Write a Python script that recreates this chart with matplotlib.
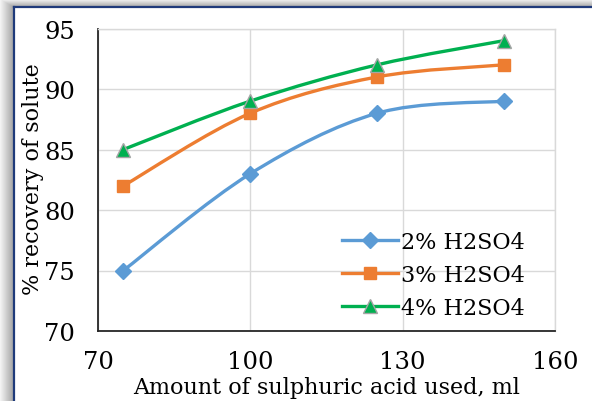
import numpy as np
import matplotlib
matplotlib.use("Agg")
import matplotlib.pyplot as plt
from matplotlib.path import Path
from matplotlib.patches import PathPatch
from matplotlib.lines import Line2D

# ---- data ----
acid_ml = [75, 100, 125, 150]
rec_2pct = [75, 83, 88, 89]
rec_3pct = [82, 88, 91, 92]
rec_4pct = [85, 89, 92, 94]
series_labels = ["2% H2SO4", "3% H2SO4", "4% H2SO4"]
x_ticks = [70, 100, 130, 160]
y_ticks = [70, 75, 80, 85, 90, 95]

colors = ["#5B9BD5", "#ED7D31", "#00B050"]
markers = ["D", "s", "^"]
msizes = [8, 9, 10]
medges = ["#5B9BD5", "#ED7D31", "#A5A5A5"]

FONT = "DejaVu Serif"
FS = 16
FS_TICK = 17.5

W, H = 592, 402
fig = plt.figure(figsize=(W / 100, H / 100), dpi=100)

# ---- background frame with shadow ----
bg = fig.add_axes([0, 0, 1, 1], zorder=-10)
bx, by = 14, 8
yy, xx = np.mgrid[0:H, 0:W]
dx = np.clip(bx - xx, 0, None)
dy = np.clip(by - yy, 0, None)
d = np.maximum(dx / bx, dy / by)
outside = (xx < bx) | (yy < by)
img = np.ones((H, W))
shade = 0.62 + 0.33 * d
img[outside] = shade[outside]
bg.imshow(img, cmap="gray", vmin=0, vmax=1, extent=(0, W, H, 0), aspect="auto",
          interpolation="bilinear")
bg.plot([bx, bx], [by, H], color="#1F3A7A", lw=1.6)
bg.plot([bx, W], [by, by], color="#1F3A7A", lw=1.6)
bg.set_xlim(0, W)
bg.set_ylim(H, 0)
bg.axis("off")

# ---- main axes ----
L, R, T, B = 98, 555, 29.5, 332
ax = fig.add_axes([L / W, (H - B) / H, (R - L) / W, (B - T) / H])
ax.set_facecolor("none")
ax.set_xlim(70, 160)
ax.set_ylim(70, 95)
ax.set_xticks(x_ticks)
ax.set_yticks(y_ticks)
ax.grid(True, color="#D9D9D9", lw=1.0, zorder=0)
ax.set_axisbelow(True)
for s in ["top", "right"]:
    ax.spines[s].set_color("#D9D9D9")
    ax.spines[s].set_linewidth(1.0)
for s in ["left", "bottom"]:
    ax.spines[s].set_color("#262626")
    ax.spines[s].set_linewidth(1.3)
ax.tick_params(length=0, labelsize=FS_TICK)
ax.tick_params(axis="x", pad=14)
ax.tick_params(axis="y", pad=16.5)
for lab in ax.get_xticklabels() + ax.get_yticklabels():
    lab.set_fontfamily(FONT)


def smooth_path(x, y):
    pts = np.column_stack([x, y]).astype(float)
    n = len(pts)
    verts = [pts[0]]
    codes = [Path.MOVETO]
    for i in range(n - 1):
        p0 = pts[i - 1] if i > 0 else pts[i]
        p1 = pts[i]
        p2 = pts[i + 1]
        p3 = pts[i + 2] if i + 2 < n else pts[i + 1]
        c1 = p1 + (p2 - p0) / 6.0
        c2 = p2 - (p3 - p1) / 6.0
        verts += [c1, c2, p2]
        codes += [Path.CURVE4] * 3
    return Path(verts, codes)


handles = []
for ys, c, m, ms, me, lab in zip([rec_2pct, rec_3pct, rec_4pct], colors, markers,
                                  msizes, medges, series_labels):
    ax.add_patch(PathPatch(smooth_path(acid_ml, ys), fill=False, edgecolor=c,
                           lw=2.4, capstyle="round", joinstyle="round", zorder=3))
    ax.plot(acid_ml, ys, linestyle="none", marker=m, ms=ms, mfc=c, mec=me,
            mew=1.0, zorder=4, clip_on=False)
    handles.append(Line2D([], [], color=c, lw=2.4, marker=m, ms=ms, mfc=c,
                          mec=me, mew=1.0))

leg = ax.legend(handles, series_labels, loc="upper left",
                bbox_to_anchor=(342 / W, (H - 232) / H),
                bbox_transform=fig.transFigure, frameon=False, borderpad=0,
                borderaxespad=0, handlelength=2.5, handletextpad=0.15,
                labelspacing=0.5, prop={"family": FONT, "size": FS})

fig.text(326.5 / W, (H - 394) / H, "Amount of sulphuric acid used, ml",
         ha="center", va="baseline", family=FONT, fontsize=FS)
fig.text(33 / W, (H - 179) / H, "% recovery of solute", ha="center",
         va="center", rotation=90, family=FONT, fontsize=FS)

fig.savefig("out.png", dpi=100)
